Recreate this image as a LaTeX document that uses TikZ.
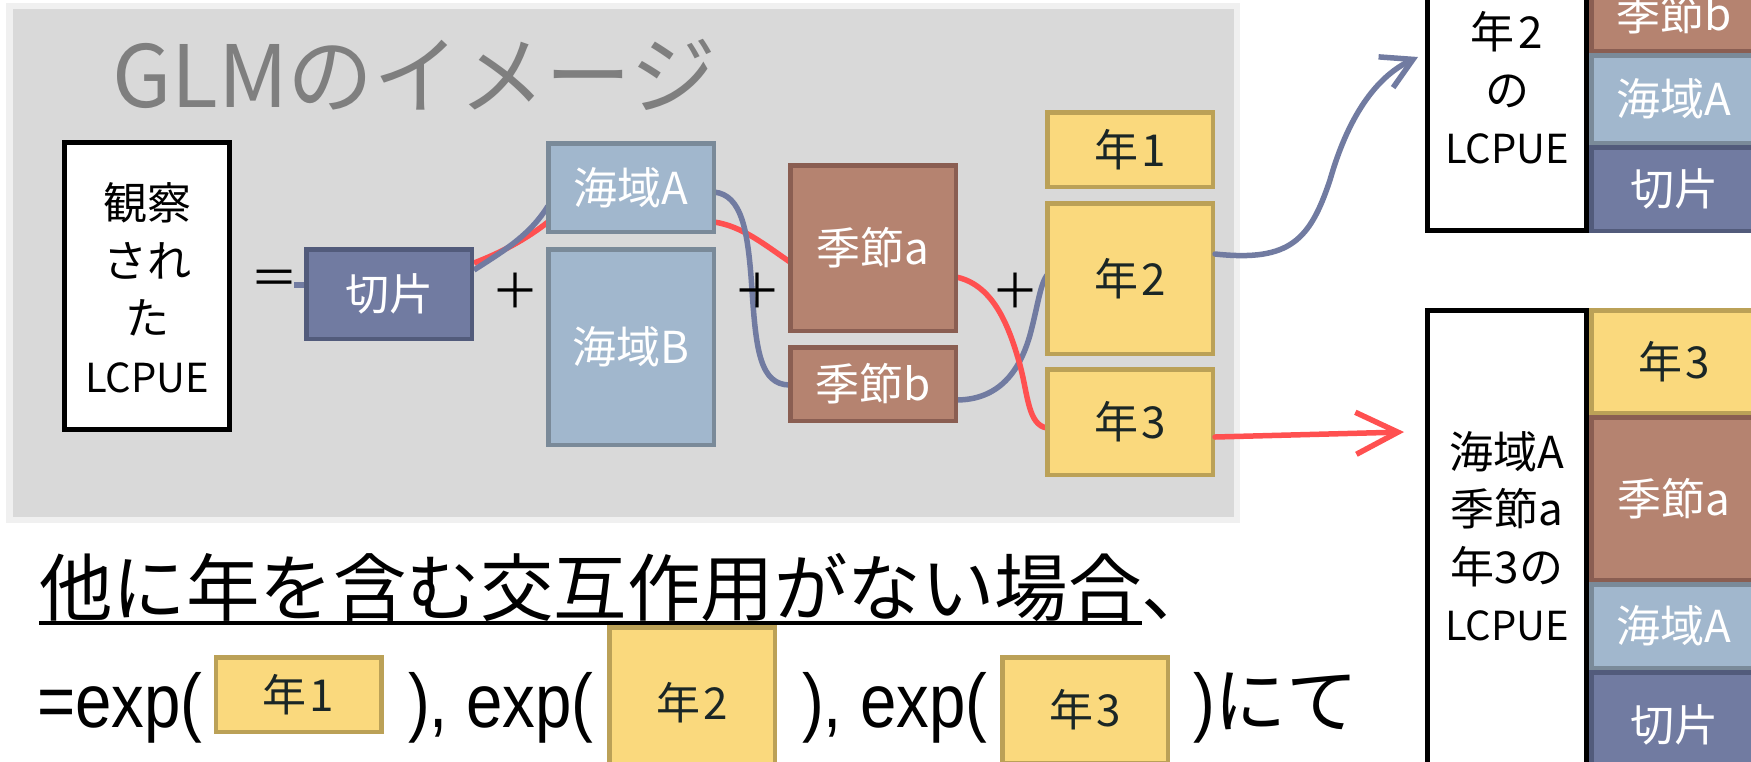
\documentclass[tikz,border=0pt]{standalone}
\usepackage{fontspec}
\setmainfont{Noto Sans CJK JP}
\newfontfamily\latinN[FakeStretch=0.86]{Liberation Sans}
\usetikzlibrary{arrows.meta,calc}
\definecolor{panel}{HTML}{D9D9D9}
\definecolor{panelrim}{HTML}{F0F0F0}
\definecolor{titlegray}{HTML}{7F7F7F}
\definecolor{icfill}{HTML}{717BA1}
\definecolor{icdraw}{HTML}{525B7B}
\definecolor{seafill}{HTML}{A1B7CD}
\definecolor{seadraw}{HTML}{7A8A99}
\definecolor{ssnfill}{HTML}{B58370}
\definecolor{ssndraw}{HTML}{8A5E52}
\definecolor{yrfill}{HTML}{FAD97D}
\definecolor{yrdraw}{HTML}{BBA157}
\definecolor{yrtext}{HTML}{1A2626}
\definecolor{linered}{HTML}{FF5050}
\newcommand\myul[1]{\setbox0\hbox{#1}\rlap{\rule[-10pt]{\wd0}{4pt}}\box0}
\begin{document}
\begin{tikzpicture}[x=1pt,y=-1pt,
  box/.style={draw, line width=4.5pt, inner sep=0pt, font=\fontsize{44}{52}\selectfont},
  icbox/.style={box, fill=icfill, draw=icdraw, text=white},
  seabox/.style={box, fill=seafill, draw=seadraw, text=white},
  ssnbox/.style={box, fill=ssnfill, draw=ssndraw, text=white},
  yrbox/.style={box, fill=yrfill, draw=yrdraw, text=yrtext},
  whitebox/.style={draw=black, line width=5pt, fill=white, inner sep=0pt},
  lbl/.style={align=center, inner sep=0pt, font=\fontsize{44}{57.5}\selectfont},
  opsym/.style={inner sep=0pt, font=\fontsize{48}{50}\selectfont},
  redline/.style={draw=linered, line width=5.5pt},
  blueline/.style={draw=icfill, line width=5.5pt},
  bigtext/.style={inner sep=0pt, anchor=base west, font=\fontsize{73.5}{80}\selectfont},
  lattext/.style={inner sep=0pt, anchor=base west, font=\fontsize{76}{80}\latinN}
]
\useasboundingbox (0,0) rectangle (1751,761);
\clip (0,0) rectangle (1751,761);
\fill[white] (0,0) rectangle (1751,761);
% panel
\fill[panelrim] (6,3) rectangle (1240,523);
\fill[panel] (13,9) rectangle (1234,517);
\node[inner sep=0pt, anchor=base west, text=titlegray, font=\fontsize{86}{90}\selectfont] (title) at (112,107) {GLMのイメージ};

% main box positions
\coordinate (cobs) at (147,286);
\coordinate (cicpt) at (389,294);
\coordinate (cseaA) at (631,187.5);
\coordinate (cseaB) at (631,347);
\coordinate (cssnA) at (873,248);
\coordinate (cssnB) at (873,384);
\coordinate (cy1) at (1130,149.5);
\coordinate (cy2) at (1130,278.5);
\coordinate (cy3) at (1130,422);

\node[whitebox, minimum width=165, minimum height=287] (obs) at (cobs) {};
\node[lbl] (obslabel) at (147,288) {観察\\され\\た\\{\fontsize{40}{57.5}\selectfont LCPUE}};
\node[opsym] (eq) at (274,283) {＝};

% connectors (under boxes)
\coordinate (stub) at (294,285);
\path (cicpt) +(85,0) coordinate (icE) (cicpt) +(-85,0) coordinate (icW);
\draw[blueline] (stub) -- (icW |- 0,285);
\draw[redline] (icE |- 0,263) .. controls (500,253) and (525,240) .. (548,222);
\draw[redline] (714,222) .. controls (742,226) and (765,245) .. (790,262);
\draw[blueline] (icE |- 0,270) .. controls (505,250) and (530,235) .. (548,206);
\draw[blueline] (714,192) .. controls (742,195) and (748,230) .. (752,290) .. controls (756,350) and (760,385) .. (790,385);
\draw[blueline] (956,400) .. controls (1000,400) and (1020,370) .. (1030,335) .. controls (1038,305) and (1040,285) .. (1047,275);
\draw[redline] (956,277) .. controls (995,285) and (1010,330) .. (1020,365) .. controls (1028,395) and (1028,425) .. (1047,428);

\node[icbox, minimum width=165.5, minimum height=89.5] (icpt) at (cicpt) {切片};
\node[seabox, minimum width=165.5, minimum height=88.5] (seaA) at (cseaA) {海域A};
\node[seabox, minimum width=165.5, minimum height=195.5] (seaB) at (cseaB) {海域B};
\node[ssnbox, minimum width=165.5, minimum height=165.5] (ssnA) at (cssnA) {季節a};
\node[ssnbox, minimum width=165.5, minimum height=73.5] (ssnB) at (cssnB) {季節b};
\node[yrbox, minimum width=165.5, minimum height=74.5] (y1) at (cy1) {年\kern3pt{}1};
\node[yrbox, minimum width=165.5, minimum height=150.5] (y2) at (cy2) {年\kern3pt{}2};
\node[yrbox, minimum width=165.5, minimum height=105.5] (y3) at (cy3) {年\kern3pt{}3};

\node[opsym] (p1) at (515.5,291) {＋};
\node[opsym] (p2) at (757,291) {＋};
\node[opsym] (p3) at (1015,291) {＋};

% arrows to the right
\coordinate (bluetip) at (1418,57);
\coordinate (redtip) at (1404,432);
\draw[blueline, line cap=round, -{Straight Barb[length=30pt,width=34pt]}] (y2.east |- 0,254) .. controls (1290,262) and (1310,240) .. (1330,180) .. controls (1350,110) and (1380,75) .. (bluetip);
\draw[redline, line cap=round, -{Straight Barb[length=42pt,width=42pt]}] (y3.east |- 0,437) -- (redtip);

% right top panel
\node[whitebox, minimum width=159, minimum height=258] (rt) at (1507,101.5) {};
\node[ssnbox, minimum width=165.5, minimum height=73.5] (rtssnB) at (1674,14) {季節b};
\node[seabox, minimum width=165.5, minimum height=87.5] (rtseaA) at (1674,99) {海域A};
\node[icbox, minimum width=165.5, minimum height=83.5] (rticpt) at (1674,189) {切片};
\node[lbl] (rtlabel) at (1507,88) {年\kern4pt{}2\\の\\{\fontsize{40}{57.5}\selectfont LCPUE}};

% right bottom panel
\node[whitebox, minimum width=159, minimum height=477] (rb) at (1507,549) {};
\node[yrbox, minimum width=165.5, minimum height=102.5] (rby3) at (1674,361.5) {年\kern3pt{}3};
\node[ssnbox, minimum width=165.5, minimum height=162.5] (rbssnA) at (1674,498.5) {季節a};
\node[seabox, minimum width=165.5, minimum height=83.5] (rbseaA) at (1674,626) {海域A};
\node[icbox, minimum width=165.5, minimum height=105.5] (rbicpt) at (1674,725) {切片};
\node[lbl] (rblabel) at (1507,536) {海域A\\季節a\\年3の\\{\fontsize{40}{57.5}\selectfont LCPUE}};

% bottom text
\node[bigtext] (line1) at (39,615) {\myul{他に年を含む交互作用がない場合}、};
\node[lattext] (t1) at (37,727) {=exp(};
\node[yrbox, minimum width=165.5, minimum height=74.5] (b1) at (298.5,694.5) {年\kern3pt{}1};
\node[lattext] (t2) at (408,727) {), exp(};
\node[yrbox, minimum width=165.5, minimum height=150.5] (b2) at (692,702.5) {年\kern3pt{}2};
\node[lattext] (t3) at (802,727) {), exp(};
\node[yrbox, minimum width=165.5, minimum height=105.5] (b3) at (1085,710) {年\kern3pt{}3};
\node[lattext] (t4) at (1193,727) {)\fontsize{72}{80}\rmfamily にて};
\end{tikzpicture}
\end{document}
